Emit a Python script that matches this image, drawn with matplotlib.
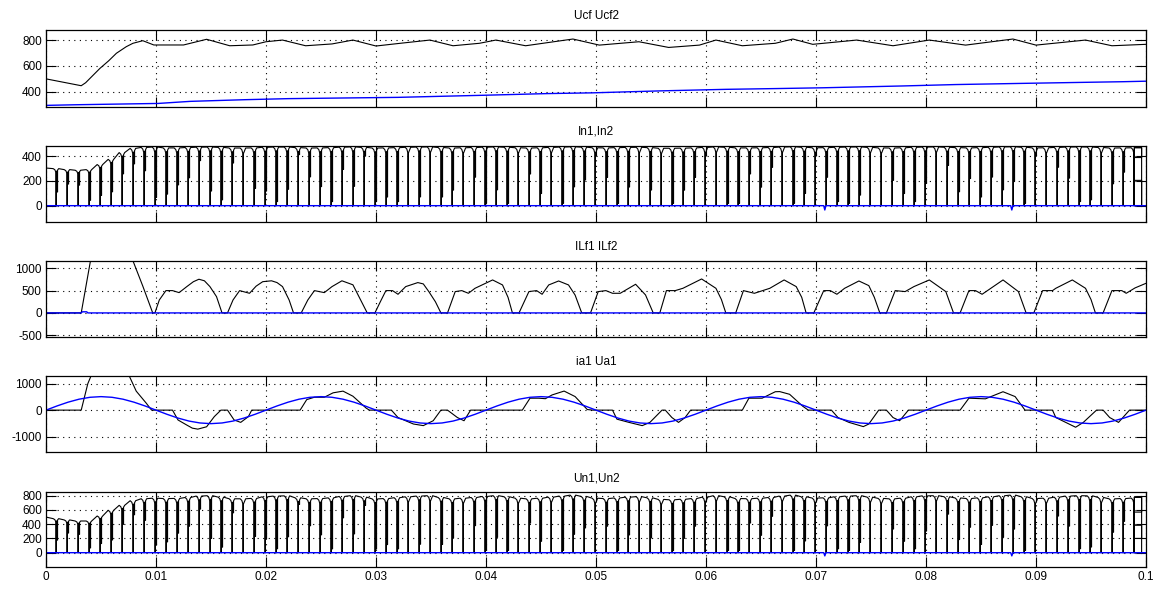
import numpy as np
import matplotlib
matplotlib.use("Agg")
import matplotlib.pyplot as plt

plt.rcParams["font.family"] = ["Liberation Sans", "DejaVu Sans"]
plt.rcParams["axes.unicode_minus"] = False

# ---------------- data ----------------
# DC link voltages: Ucf (black) and Ucf2 (blue)
ucf = np.array([
    (0, 500), (0.0032, 447), (0.0036, 470), (0.0049, 581), (0.0057, 640),
    (0.0064, 698), (0.0073, 749), (0.0079, 775), (0.0088, 795), (0.0098, 762),
    (0.0125, 762), (0.0146, 806), (0.0167, 756), (0.0188, 762), (0.0200, 787),
    (0.0215, 800), (0.0236, 756), (0.0260, 770), (0.0279, 800), (0.0300, 754),
    (0.0322, 775), (0.0349, 800), (0.0370, 756), (0.0394, 775), (0.0409, 800),
    (0.0436, 756), (0.0479, 808), (0.0503, 761), (0.0539, 787), (0.0566, 743),
    (0.0594, 761), (0.0609, 800), (0.0633, 756), (0.0663, 775), (0.0679, 808),
    (0.0697, 767), (0.0737, 800), (0.0770, 756), (0.0803, 800), (0.0836, 761),
    (0.0879, 808), (0.0900, 761), (0.0945, 800), (0.0969, 756), (0.1000, 767),
])
ucf2 = np.array([
    (0, 295), (0.0028, 300), (0.0102, 310), (0.0131, 326), (0.0181, 339),
    (0.0220, 347), (0.0269, 352), (0.0320, 357), (0.0358, 365), (0.0397, 373),
    (0.0455, 386), (0.0497, 392), (0.0558, 407), (0.0618, 419), (0.0664, 425),
    (0.0706, 431), (0.0778, 445), (0.0827, 456), (0.0887, 465), (0.0936, 472),
    (0.0979, 478), (0.1000, 482),
])

# switching instants (1 kHz) shared by In1 and Un1
t_first = 0.0009
t_period = 0.001
# depth of the short extra notch next to each drop, relative to the top level
notch = [
    0.37, 0.60, 0.58, 0.15, 0.25, 0.30, 0.60, 0.73, 0.60, 0.14,
    0.20, 0.36, 0.48, 0.77, 0.25, 0.10, 0.74, None, 0.30, 0.25,
    0.07, 0.28, 0.88, 0.50, 0.33, 0.07, 0.62, 0.33, 0.85, 0.07,
    0.15, 0.07, None, 0.15, None, 0.15, 0.27, None, 0.49, 0.04,
    0.27, 0.04, None, 0.55, 0.21, None, 0.04, 0.32, 0.44, None,
    0.49, 0.04, 0.32, None, 0.27, None, 0.04, 0.27, 0.49, None,
    None, 0.04, 0.04, 0.55, 0.32, 0.66, None, 0.04, 0.21, None,
    0.49, 0.07, 0.04, 0.18, None, None, 0.44, 0.21, 0.07, 0.38,
    None, 0.69, 0.24, 0.47, 0.15, 0.49, 0.27, 0.41, 0.04, None,
    None, 0.66, 0.47, 0.07, 0.10, None, 0.38, 0.58, 0.04,
]

# In1 top level at t=0 and at each switching instant
in1_top = [
    305,
    300, 292, 287, 292, 333, 375, 430, 464, 472, 475,
    468, 468, 471, 474, 475, 472, 467, 467, 468, 473,
    475, 475, 470, 467, 468, 470, 474, 476, 472, 467,
    468, 470, 473, 475, 476, 471, 467, 469, 471, 474,
    476, 473, 469, 467, 469, 472, 475, 477, 474, 469,
    468, 470, 472, 473, 470, 465, 465, 466, 468, 472,
    476, 473, 468, 468, 469, 471, 475, 477, 473, 469,
    470, 473, 475, 476, 472, 468, 467, 469, 473, 475,
    476, 473, 470, 468, 470, 473, 476, 477, 473, 468,
    469, 472, 475, 476, 475, 471, 467, 468, 469,
]
in1_tail = [470, 390, 205]
in2_blip_t = [0.0708, 0.0878]
in2_blip_v = [-35, -35]

# Un1 top level at t=0 and at each switching instant
un1_top = [
    500,
    478, 460, 445, 445, 515, 595, 665, 730, 758, 765,
    760, 762, 775, 795, 800, 780, 757, 757, 762, 785,
    795, 798, 770, 757, 760, 770, 790, 800, 780, 755,
    760, 772, 785, 795, 800, 775, 756, 765, 775, 790,
    800, 785, 765, 756, 765, 780, 795, 808, 790, 765,
    760, 768, 780, 787, 770, 748, 743, 750, 760, 780,
    800, 785, 760, 758, 765, 775, 795, 808, 785, 767,
    770, 785, 795, 800, 780, 762, 756, 765, 785, 798,
    800, 785, 768, 761, 770, 785, 800, 808, 785, 761,
    765, 780, 795, 800, 798, 775, 756, 760, 767,
]
un1_tail = [780, 570, 385, 200]
un2_blip_t = [0.0708, 0.0878]
un2_blip_v = [-45, -45]

# filter inductor current ILf1 (black), ILf2 stays at zero (blue)
ilf1 = np.array([
    (0, 0), (0.0032, 0), (0.0041, 1250), (0.0050, 1900), (0.0065, 1900),
    (0.0079, 1170), (0.0088, 600), (0.0097, 0), (0.0099, 0),
    (0.0103, 290), (0.0109, 500), (0.0115, 500), (0.0121, 455), (0.0128, 590),
    (0.0134, 700), (0.0139, 755), (0.0144, 720), (0.0149, 590), (0.0155, 365),
    (0.0160, 0), (0.0165, 0),
    (0.0170, 290), (0.0176, 500), (0.0185, 440), (0.0191, 600), (0.0197, 700),
    (0.0205, 720), (0.0210, 680), (0.0215, 590), (0.0221, 290), (0.0225, 0),
    (0.0232, 0),
    (0.0238, 290), (0.0244, 500), (0.0253, 455), (0.0260, 590), (0.0269, 720),
    (0.0279, 630), (0.0286, 290), (0.0292, 0), (0.0299, 0),
    (0.0304, 254), (0.0309, 500), (0.0315, 500), (0.0320, 418), (0.0327, 590),
    (0.0338, 680), (0.0343, 650), (0.0348, 478), (0.0354, 250), (0.0359, 0),
    (0.0365, 0),
    (0.0372, 478), (0.0378, 500), (0.0384, 440), (0.0390, 552), (0.0406, 739),
    (0.0415, 627), (0.0420, 350), (0.0424, 0), (0.0430, 0),
    (0.0439, 478), (0.0446, 500), (0.0451, 418), (0.0457, 627), (0.0466, 716),
    (0.0475, 627), (0.0481, 400), (0.0487, 0), (0.0495, 0),
    (0.0502, 478), (0.0509, 500), (0.0515, 440), (0.0522, 440), (0.0536, 642),
    (0.0545, 403), (0.0552, 0), (0.0558, 0),
    (0.0564, 500), (0.0572, 500), (0.0579, 552), (0.0596, 761), (0.0609, 552),
    (0.0614, 300), (0.0618, 0), (0.0627, 0),
    (0.0634, 500), (0.0644, 440), (0.0658, 552), (0.0671, 739), (0.0682, 590),
    (0.0687, 350), (0.0691, 0), (0.0698, 0),
    (0.0707, 500), (0.0713, 500), (0.0719, 418), (0.0726, 552), (0.0739, 716),
    (0.0748, 612), (0.0753, 350), (0.0758, 0), (0.0764, 0),
    (0.0772, 500), (0.0781, 478), (0.0789, 590), (0.0803, 739), (0.0818, 478),
    (0.0825, 0), (0.0831, 0),
    (0.0839, 500), (0.0845, 500), (0.0851, 418), (0.0870, 739), (0.0884, 478),
    (0.0891, 0), (0.0898, 0),
    (0.0906, 500), (0.0915, 500), (0.0918, 552), (0.0933, 739), (0.0945, 552),
    (0.0950, 300), (0.0954, 0), (0.0961, 0),
    (0.0969, 500), (0.0978, 500), (0.0982, 440), (0.0990, 560), (0.1000, 664),
])
ilf2 = np.array([(0, 0), (0.0032, 0), (0.0033, 25), (0.0037, 25), (0.0038, 0), (0.1, 0)])

# phase current ia1 (black) and phase voltage Ua1 (blue)
ia1 = np.array([
    (0, 0), (0.0032, 0), (0.0035, 500), (0.0038, 1000), (0.0042, 1400),
    (0.0060, 1900), (0.0075, 1350), (0.0082, 718), (0.0091, 269), (0.0096, 0),
    (0.0115, 0), (0.0120, -372), (0.0128, -564), (0.0133, -680), (0.0138, -718),
    (0.0146, -628), (0.0153, -244), (0.0159, 0), (0.0165, 0), (0.0171, -372),
    (0.0177, -462), (0.0184, -244), (0.0187, 0), (0.0231, 0), (0.0237, 397),
    (0.0244, 487), (0.0253, 487), (0.0261, 654), (0.0270, 718), (0.0279, 526),
    (0.0291, 77), (0.0294, 0), (0.0314, 0), (0.0320, -280), (0.0334, -524),
    (0.0343, -585), (0.0352, -400), (0.0359, 0), (0.0365, 0), (0.0374, -280),
    (0.0380, -400), (0.0386, 0), (0.0433, 0), (0.0440, 451), (0.0448, 451),
    (0.0454, 432), (0.0460, 573), (0.0471, 720), (0.0481, 512), (0.0492, 24),
    (0.0497, 0), (0.0515, 0), (0.0519, -341), (0.0530, -463), (0.0542, -585),
    (0.0549, -463), (0.0560, 0), (0.0563, 0), (0.0569, -280), (0.0575, -463),
    (0.0581, -280), (0.0586, 0), (0.0633, 0), (0.0639, 451), (0.0651, 451),
    (0.0663, 695), (0.0667, 700), (0.0676, 598), (0.0688, 146), (0.0693, 0),
    (0.0714, 0), (0.0720, -280), (0.0730, -463), (0.0743, -622), (0.0748, -524),
    (0.0757, 0), (0.0764, 0), (0.0770, -280), (0.0776, -400), (0.0784, 0),
    (0.0831, 0), (0.0839, 451), (0.0854, 427), (0.0870, 695), (0.0881, 512),
    (0.0890, 0), (0.0915, 0), (0.0918, -280), (0.0927, -463), (0.0936, -646),
    (0.0943, -463), (0.0955, 0), (0.0961, 0), (0.0967, -280), (0.0975, -463),
    (0.0985, 0), (0.1000, 0),
])
# Ua1 sampled every 1 ms
ua1 = [
    0, 158, 300, 413, 485, 510, 485, 413, 300, 158,
    0, -158, -300, -413, -485, -510, -485, -413, -300, -158,
    0, 158, 300, 413, 485, 510, 485, 413, 300, 158,
    0, -158, -300, -413, -485, -510, -485, -413, -300, -158,
    0, 158, 300, 413, 485, 510, 485, 413, 300, 158,
    0, -158, -300, -413, -485, -510, -485, -413, -300, -158,
    0, 158, 300, 413, 485, 510, 485, 413, 300, 158,
    0, -158, -300, -413, -485, -510, -485, -413, -300, -158,
    0, 158, 300, 413, 485, 510, 485, 413, 300, 158,
    0, -158, -300, -413, -485, -510, -485, -413, -300, -158,
    0,
]

x_ticks = [0, 0.01, 0.02, 0.03, 0.04, 0.05, 0.06, 0.07, 0.08, 0.09, 0.1]
x_labels = ["0", "0.01", "0.02", "0.03", "0.04", "0.05", "0.06", "0.07", "0.08", "0.09", "0.1"]


def chopped(top, notch, tail):
    """Build a chopped waveform: top level with a drop to zero at every switching instant."""
    t_sw = t_first + t_period * np.arange(len(notch))
    xs, ys = [0.0], [top[0]]
    for k, tk in enumerate(t_sw):
        lv = top[k + 1]
        xs += [tk - 2.5e-4, tk - 1.0e-4, tk, tk]
        ys += [lv, 0.97 * lv, 0.9 * lv, 0]
        if k == len(t_sw) - 1:
            break
        xs += [tk + 0.4e-4, tk + 0.4e-4]
        ys += [0, 0.9 * lv]
        if notch[k] is not None:
            xs += [tk + 1.0e-4, tk + 1.0e-4, tk + 1.5e-4, tk + 1.5e-4]
            ys += [0.94 * lv, notch[k] * lv, notch[k] * lv, 0.96 * lv]
        xs += [tk + 2.5e-4]
        ys += [lv]
    # fast chatter at the end of the record
    a, b = t_sw[-1] + 0.4e-4, 0.0996
    side = [a, b]
    cur = 0
    xs += [a]
    ys += [0]
    for lv in tail:
        xs += [side[cur], side[1 - cur]]
        ys += [lv, lv]
        cur = 1 - cur
    xs += [side[cur], a, a, b, b]
    ys += [0, 0, tail[0], tail[0], 0]
    return np.array(xs), np.array(ys)


def zero_line(blip_t, blip_v):
    xs, ys = [0.0], [0.0]
    for t, v in zip(blip_t, blip_v):
        xs += [t - 1e-4, t, t + 1e-4]
        ys += [0, v, 0]
    xs.append(0.1)
    ys.append(0)
    return xs, ys


# ---------------- figure ----------------
fig = plt.figure(figsize=(11.65, 5.9), dpi=100)
left, width = 0.0395, 0.9442
boxes = [(0.8192, 0.9492), (0.6242, 0.7531), (0.4288, 0.5581), (0.2344, 0.3632), (0.0385, 0.1656)]
titles = ["Ucf Ucf2", "In1,In2", "ILf1 ILf2", "ia1 Ua1", "Un1,Un2"]
ylims = [(285, 878), (-130, 486), (-540, 1170), (-1570, 1300), (-205, 848)]
yticks = [[400, 600, 800], [0, 200, 400], [-500, 0, 500, 1000], [-1000, 0, 1000],
          [0, 200, 400, 600, 800]]

axes = []
for i, (b, t) in enumerate(boxes):
    ax = fig.add_axes([left, b, width, t - b])
    ax.set_xlim(0, 0.1)
    ax.set_ylim(*ylims[i])
    ax.set_xticks(x_ticks)
    ax.set_yticks(yticks[i])
    if i == 4:
        ax.set_xticklabels(x_labels)
    else:
        ax.set_xticklabels([])
    ax.grid(True, color="black", linestyle=(0, (1, 4)), linewidth=0.8)
    ax.tick_params(direction="in", top=True, right=True, length=7, width=0.8,
                   labelsize=8.5, pad=3, colors="black")
    for s in ax.spines.values():
        s.set_linewidth(0.9)
    ax.set_title(titles[i], fontsize=8.5, pad=8)
    axes.append(ax)

lw = 0.8
ax1, ax2, ax3, ax4, ax5 = axes

ax1.plot(ucf[:, 0], ucf[:, 1], color="black", lw=lw)
ax1.plot(ucf2[:, 0], ucf2[:, 1], color="blue", lw=1.0)

x, y = chopped(in1_top, notch, in1_tail)
ax2.plot(x, y, color="black", lw=lw)
ax2.plot(*zero_line(in2_blip_t, in2_blip_v), color="blue", lw=1.0)

ax3.plot(ilf1[:, 0], ilf1[:, 1], color="black", lw=lw)
ax3.plot(ilf2[:, 0], ilf2[:, 1], color="blue", lw=1.0)

ax4.plot(ia1[:, 0], ia1[:, 1], color="black", lw=lw)
ax4.plot(np.linspace(0, 0.1, len(ua1)), ua1, color="blue", lw=1.0)

x, y = chopped(un1_top, notch, un1_tail)
ax5.plot(x, y, color="black", lw=lw)
ax5.plot(*zero_line(un2_blip_t, un2_blip_v), color="blue", lw=1.0)

fig.savefig("out.png", dpi=100)
